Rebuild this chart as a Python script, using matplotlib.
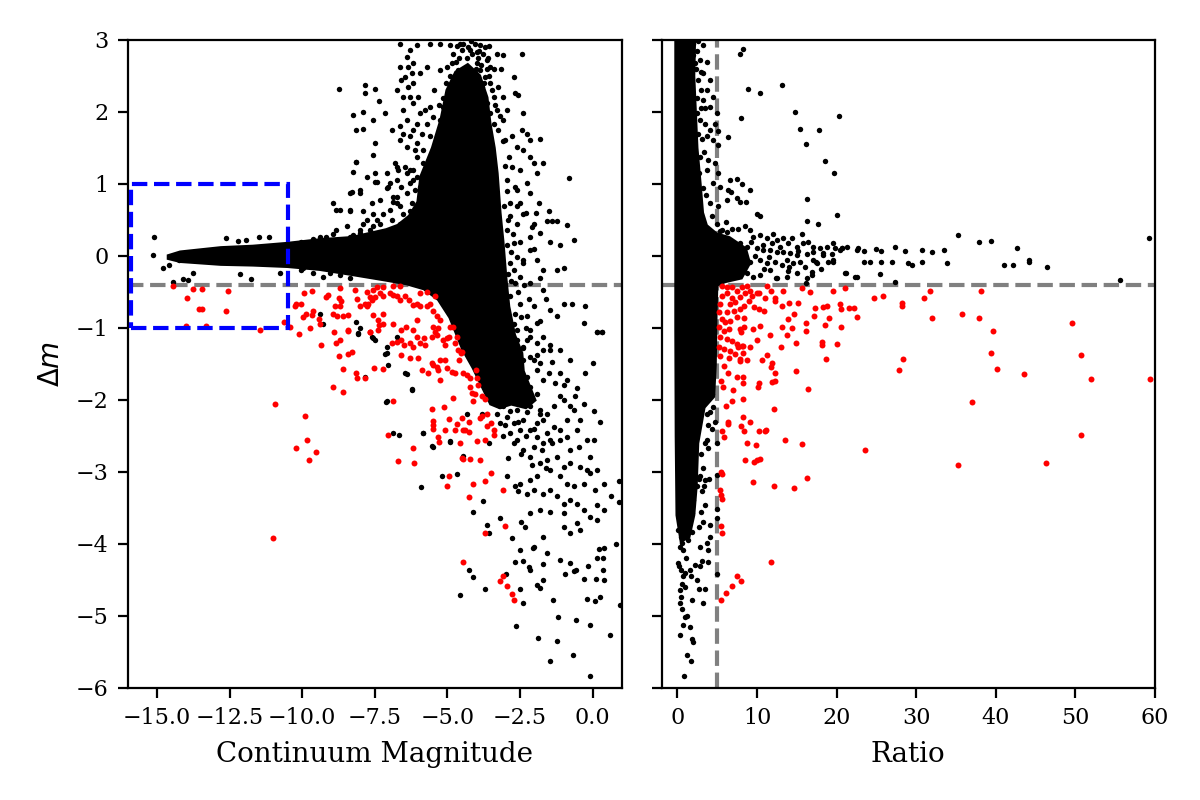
import matplotlib
matplotlib.use("Agg")
import matplotlib.pyplot as plt
from matplotlib.patches import Rectangle

# ---------------- data ----------------
# dense core of the left panel (outline of the solid black region)
left_core_mag = [-14.6, -14.2, -13.5, -12.8, -11.7, -10.5, -9.4, -8.3, -7.1, -6.7, -6.3, -6.0, -5.9, -5.5,
                 -5.2, -5.0, -4.7, -4.3, -3.9, -3.65, -3.55, -3.4, -3.3, -3.2, -3.1, -3.0, -2.9,
                 -2.7, -2.45, -2.4, -2.2, -2.0, -2.3, -2.8, -3.2, -3.5, -3.8, -4.1, -4.45, -4.7, -4.9,
                 -5.3, -5.8, -6.4, -7.1, -8.3, -9.4, -10.5, -11.7, -12.8, -13.5, -14.2, -14.6]
left_core_dm = [0.0, 0.05, 0.08, 0.11, 0.13, 0.17, 0.22, 0.25, 0.36, 0.42, 0.55, 0.75, 1.1, 1.5,
                1.9, 2.3, 2.55, 2.65, 2.5, 2.2, 1.85, 1.5, 1.15, 0.6, 0.2, -0.3, -0.7,
                -1.1, -1.35, -1.6, -1.8, -2.0, -2.1, -2.05, -2.1, -2.05, -1.8, -1.55, -1.3, -1.05, -0.85,
                -0.6, -0.45, -0.38, -0.33, -0.25, -0.18, -0.14, -0.12, -0.11, -0.09, -0.07, -0.03]

# dense band of the right panel (outline of the solid black region)
right_core_ratio = [-0.15, 2.1, 2.0, 2.2, 2.4, 2.8, 3.1, 3.6, 4.9, 6.5, 8.5, 9.0, 8.0, 6.0, 4.9, 4.8, 4.7,
                    4.5, 3.3, 2.5, 2.3, 2.0, 1.4, 0.5, 0.0, -0.1, -0.15, -0.15]
right_core_dm = [3.0, 3.0, 2.5, 2.0, 1.5, 1.0, 0.6, 0.42, 0.3, 0.25, 0.1, -0.1, -0.3, -0.35, -0.4, -0.8, -1.5,
                 -1.95, -2.1, -2.6, -3.2, -3.6, -3.9, -3.95, -3.6, -2.5, -1.0, 1.0]

# individual black points, left panel (continuum magnitude, delta m)
left_black = [
    (-15.11, 0.26), (-15.15, 0.01), (-14.80, -0.17), (-14.60, -0.12), (-14.44, -0.36), (-14.09, -0.32),
    (-13.77, -0.24), (-13.94, -0.33), (-12.62, 0.25), (-12.21, 0.21), (-11.93, 0.22), (-11.49, 0.27),
    (-11.14, 0.27), (-12.13, -0.25), (-11.75, -0.32), (-10.75, -0.23), (-14.23, -0.06), (-10.20, 0.15),
    (-9.86, 0.13), (-10.03, -0.19),
    (-10.03, 0.20), (-9.63, 0.24), (-9.40, 0.27), (-9.19, 0.27), (-8.94, 0.31), (-8.76, 0.22), (-8.25, 0.29),
    (-8.01, 0.36), (-8.82, 0.64), (-8.36, 0.64), (-7.78, 0.50), (-7.55, 0.41), (-8.01, 0.87), (-8.30, 0.89),
    (-7.50, 1.15), (-7.44, 1.03), (-7.09, 0.94), (-6.98, 1.01), (-6.86, 0.75), (-6.63, 0.69), (-6.29, 0.62),
    (-6.40, 0.48), (-6.17, 0.41), (-5.94, 0.96), (-6.75, 1.24), (-6.29, 1.19), (-6.17, 1.06), (-6.40, 1.15),
    (-6.75, 0.82), (-5.94, 0.69), (-5.71, 0.45), (-8.13, 1.31),
    (-8.73, 2.32), (-7.84, 2.38), (-7.84, 2.26), (-7.50, 2.32), (-7.35, 2.15), (-8.24, 1.96), (-7.90, 2.00),
    (-7.55, 1.89), (-8.13, 1.75), (-7.90, 1.76), (-7.50, 1.57), (-7.55, 1.40), (-8.13, 1.31), (-8.24, 1.17),
    (-7.78, 1.10), (-7.50, 1.03), (-7.04, 0.96), (-8.36, 0.87), (-8.01, 0.92), (-7.61, 0.73), (-7.32, 0.78),
    (-7.90, 0.62), (-7.55, 0.59), (-8.36, 0.62), (-8.70, 0.64), (-8.93, 0.73), (-7.15, 1.98), (-6.92, 1.75),
    (-6.63, 1.80), (-6.17, 1.75), (-6.40, 1.89), (-6.52, 2.03), (-6.75, 2.31), (-6.58, 2.44), (-6.63, 2.63),
    (-6.40, 2.77), (-6.29, 2.86), (-6.63, 2.95), (-6.06, 2.93), (-6.17, 2.68), (-6.17, 2.40), (-6.29, 2.21),
    (-5.94, 2.54), (-5.71, 2.63), (-5.60, 2.95), (-5.25, 2.95), (-5.25, 2.58), (-5.02, 2.63), (-4.79, 2.81),
    (-4.68, 2.91), (-4.45, 2.95), (-4.22, 2.86), (-3.87, 2.93), (-3.76, 2.81), (-3.99, 2.68), (-3.64, 2.72),
    (-3.53, 2.63), (-3.30, 2.81), (-3.07, 2.79), (-2.72, 2.49), (-3.53, 2.40), (-3.41, 2.21), (-3.07, 2.21),
    (-3.99, 2.31), (-4.33, 2.40), (-4.68, 2.40), (-4.91, 2.21), (-5.14, 2.07), (-5.60, 2.07), (-5.48, 1.93),
    (-5.71, 1.84), (-5.25, 1.89), (-5.02, 1.80), (-6.06, 1.57), (-5.83, 1.47), (-5.60, 1.38), (-5.37, 1.29),
    (-6.17, 1.19), (-6.06, 1.38), (-6.40, 1.52), (-6.63, 1.61), (-6.81, 1.29), (-6.69, 1.19), (-7.09, 1.15),
    (-6.75, 1.06), (-6.29, 1.01), (-6.40, 0.87), (-6.75, 0.73), (-6.98, 0.64), (-6.52, 0.59), (-7.21, 0.59),
    (-7.32, 0.45), (-7.67, 0.36), (-8.01, 0.32), (-8.36, 0.27), (-8.70, 0.22),
    (-4.85, 2.68), (-4.62, 2.58), (-4.50, 2.47), (-4.22, 2.54), (-4.04, 2.44), (-3.87, 2.58), (-3.81, 2.35),
    (-3.70, 2.49), (-4.10, 2.21), (-4.39, 2.17), (-4.62, 2.26), (-4.79, 2.07), (-4.56, 1.98), (-4.22, 2.03),
    (-3.93, 2.07), (-3.64, 2.12), (-3.53, 1.98), (-3.70, 1.89), (-3.30, 2.03), (-3.41, 1.84), (-3.24, 1.75),
    (-5.02, 1.93), (-5.25, 1.75), (-5.37, 1.61), (-5.60, 1.66), (-5.08, 1.66), (-4.50, 2.86), (-4.33, 2.75),
    (-3.99, 2.84), (-3.58, 2.91), (-4.91, 2.93), (-6.35, 2.63), (-6.46, 2.49), (-6.23, 2.54), (-6.35, 2.35),
    (-6.52, 2.21), (-6.17, 2.12), (-6.00, 2.21), (-5.94, 1.98), (-5.77, 2.03), (-6.06, 1.84), (-5.89, 1.70),
    (-6.29, 1.66), (-6.52, 1.70), (-6.12, 1.47), (-5.83, 1.29), (-6.06, 1.10), (-6.46, 1.24), (-6.58, 0.96),
    (-6.12, 0.92), (-5.94, 0.78), (-6.23, 0.73), (-6.86, 0.82), (-6.92, 0.50), (-6.63, 0.45), (-7.44, 0.50),
    (-7.90, 0.45), (-8.47, 0.41), (-8.82, 0.36),
    (-4.75, 2.45), (-4.60, 2.75), (-4.45, 2.60), (-4.30, 2.90), (-4.15, 2.80), (-4.05, 2.95), (-3.95, 2.75),
    (-3.85, 2.65), (-3.70, 2.90), (-3.65, 2.60), (-4.55, 2.95), (-4.35, 2.45), (-4.00, 2.60), (-3.75, 2.40),
    (-4.70, 2.70), (-4.20, 2.98), (-3.90, 2.85), (-3.60, 2.75), (-3.55, 2.50), (-3.45, 2.30), (-3.40, 2.60),
    (-3.35, 2.10), (-3.25, 2.35), (-3.15, 2.60), (-4.90, 2.50), (-5.05, 2.40), (-5.15, 2.20), (-5.30, 2.10),
    (-5.45, 2.30), (-3.20, 1.95), (-3.10, 1.60), (-3.00, 1.25), (-2.95, 0.90), (-3.05, 0.70),
    (-2.43, 2.81), (-2.66, 2.26), (-2.55, 2.24), (-2.38, 1.98), (-2.43, 1.75), (-2.26, 1.70), (-2.15, 1.61),
    (-1.80, 1.63), (-2.78, 1.66), (-2.61, 1.52), (-2.38, 1.47), (-2.15, 1.38), (-2.03, 1.29), (-1.69, 1.29),
    (-1.92, 1.15), (-2.49, 1.19), (-2.78, 1.24), (-2.26, 1.01), (-2.61, 0.92), (-2.15, 0.87), (-2.49, 0.73),
    (-1.86, 0.73), (-2.38, 0.59), (-2.03, 0.45), (-1.51, 0.62), (-1.57, 0.48), (-1.40, 0.48), (-1.23, 0.48),
    (-0.88, 0.43), (-0.65, 0.22), (-1.46, 0.20), (-1.11, 0.15), (-1.80, 0.32), (-2.15, 0.27), (-2.15, 0.08),
    (-1.92, -0.06), (-2.38, -0.10), (-1.69, -0.19), (-1.23, -0.19), (-0.99, -0.17), (-0.82, 1.08),
    (-2.49, -0.29), (-2.15, -0.38), (-1.69, -0.47), (-0.99, -0.66), (-0.71, -0.66), (-0.25, -0.69),
    (-1.46, -0.75), (-1.23, -0.84), (-0.30, -0.93), (0.16, -1.05), (0.33, -1.05), (-1.92, -0.93),
    (-2.15, -1.03), (-1.69, -1.12), (-1.46, -1.30), (-2.38, -1.26), (-1.92, -1.37),
    (-2.95, 0.36), (-2.84, 0.55), (-2.72, 0.18), (-2.61, -0.01), (-2.84, -0.10), (-2.66, -0.38),
    (-2.84, -0.56), (-2.49, -0.66), (-2.66, -0.80), (-2.26, -0.84), (-2.61, -1.03), (-2.78, -1.21),
    (-2.26, -1.17), (-2.84, 0.73), (-2.66, 0.96), (-2.95, 1.06), (-2.89, 1.38), (-3.01, 1.61),
    (-3.07, 1.89), (-2.95, 2.03),
    (-2.90, 0.50), (-2.75, 0.30), (-2.60, 0.45), (-2.80, 0.05), (-2.50, 0.20), (-2.40, -0.05), (-2.70, -0.20),
    (-2.55, -0.50), (-2.35, -0.40), (-2.80, -0.35), (-2.20, -0.60), (-2.45, -0.85), (-2.00, -0.70),
    (-1.80, -0.90), (-2.30, -1.00), (-2.70, -0.95), (-2.90, -0.25), (-2.95, 0.15), (-2.30, 0.60),
    (-2.00, 0.10), (-1.80, -0.30), (-1.60, -0.60), (-2.10, 0.40), (-2.60, 0.70), (-1.95, 0.60),
    (-9.99, -0.17), (-9.63, -0.24), (-9.28, -0.29), (-9.05, -0.24), (-8.71, -0.26), (-8.36, -0.31),
    (-9.40, -0.80), (-9.28, -0.94), (-8.13, -0.91), (-8.07, -1.07), (-7.55, -1.14), (-7.09, -1.26),
    (-7.09, -1.35), (-6.75, -1.12), (-6.46, -1.63), (-6.23, -1.86), (-7.09, -2.02), (-6.86, -2.46),
    (-5.83, -2.46), (-5.48, -2.65), (-4.91, -2.58), (-7.84, -1.68), (-8.01, -1.00),
    (-8.07, -1.08), (-7.61, -1.12), (-7.50, -1.17), (-7.15, -1.36), (-7.04, -1.51), (-6.40, -1.64),
    (-6.23, -1.85), (-7.12, -2.03), (-6.66, -2.48), (-5.85, -2.46), (-5.52, -2.64), (-5.20, -3.05),
    (-4.68, -3.03), (-5.92, -3.21), (-4.91, -2.57), (-4.47, -2.78), (-4.33, -2.19), (-3.81, -2.19),
    (-3.58, -2.60), (-3.78, -3.40), (-4.12, -3.56), (-3.64, -3.74), (-3.55, -3.85), (-3.18, -3.64),
    (-2.93, -3.05), (-2.66, -3.19), (-2.58, -3.27), (-2.47, -3.70), (-2.32, -3.77), (-2.78, -3.91),
    (-2.49, -4.08), (-2.05, -4.05), (-2.66, -4.25), (-2.41, -4.24), (-2.19, -4.32), (-2.15, -4.36),
    (-1.69, -4.28), (-2.97, -4.41), (-4.24, -4.36), (-4.12, -4.46), (-4.58, -4.71), (-3.69, -4.63),
    (-2.51, -4.62), (-2.38, -4.82), (-1.92, -4.57), (-1.82, -4.61), (-1.71, -4.50), (-1.37, -4.78),
    (-0.96, -4.42), (-0.65, -4.38), (-0.56, -4.36), (-0.30, -4.48), (-0.19, -4.76), (0.10, -4.79),
    (0.25, -4.74), (0.36, -4.36), (0.39, -4.50), (0.13, -4.48), (0.36, -4.19), (0.16, -4.19), (0.21, -4.07),
    (0.39, -4.06), (0.80, -4.00), (-0.17, -4.30), (-2.65, -5.14), (-1.89, -5.31), (-1.22, -5.35),
    (-1.20, -5.02), (-0.58, -5.05), (-0.10, -5.13), (0.59, -5.27), (-1.48, -5.63), (-0.68, -5.54),
    (-0.07, -5.84), (0.94, -4.85), (0.92, -3.12), (0.92, -3.42), (0.04, -2.55), (0.06, -2.15), (0.25, -2.31),
    (-0.25, -1.63), (0.00, -1.48), (0.16, -1.06), (0.33, -1.06),
    (-3.99, -1.26), (-3.64, -1.35), (-3.30, -1.31), (-3.07, -1.21), (-2.84, -1.12), (-2.61, -1.17),
    (-2.38, -1.28), (-2.15, -1.12), (-1.92, -1.21), (-1.69, -1.31), (-1.46, -1.24), (-2.03, -1.44),
    (-1.80, -1.49), (-1.51, -1.63), (-1.69, -1.72), (-1.28, -1.77), (-0.99, -1.79), (-1.11, -1.95),
    (-0.76, -2.09), (-0.99, -2.00), (-1.34, -2.09), (-1.57, -2.19), (-1.80, -2.14), (-2.15, -2.09),
    (-2.38, -2.00), (-2.61, -1.95), (-2.84, -1.86), (-3.07, -1.91), (-3.18, -2.09), (-2.95, -2.23),
    (-2.72, -2.32), (-2.38, -2.28), (-2.15, -2.42), (-1.92, -2.51), (-1.57, -2.46), (-1.34, -2.37),
    (-1.11, -2.42), (-0.88, -2.51), (-0.65, -2.14), (-0.88, -2.28), (-1.11, -2.56), (-1.46, -2.56),
    (-1.69, -2.60), (-2.03, -2.65), (-2.38, -2.69), (-2.61, -2.56), (-2.84, -2.46), (-2.15, -2.79),
    (-1.80, -2.88), (-1.57, -2.83), (-1.23, -2.79), (-0.99, -2.93), (-0.76, -2.88), (-0.42, -2.93),
    (-0.19, -2.97), (-1.46, -2.97), (-1.11, -3.06), (-0.88, -3.16), (-0.65, -3.20), (-0.30, -3.16),
    (-0.07, -3.02), (-1.92, -3.06), (-2.15, -3.11), (-2.49, -3.16), (-2.26, -3.30), (-2.03, -3.25),
    (-1.69, -3.30), (-1.46, -3.25), (-1.23, -3.34), (-0.99, -3.44), (-0.76, -3.39), (-0.53, -3.44),
    (-0.30, -3.53), (-0.07, -3.62), (0.16, -3.67), (0.39, -3.53), (-0.99, -3.57), (-1.46, -3.55),
    (-1.80, -3.53), (-2.15, -3.57), (-0.99, -3.76), (-0.53, -3.71), (-0.42, -3.81), (-0.76, -3.85),
    (-1.69, -3.90), (-2.03, -4.04), (0.16, -3.46), (-1.57, -4.13), (-1.11, -4.22), (-0.76, -4.27),
    (-3.87, -1.49), (-3.53, -1.58), (-3.18, -1.54), (-2.95, -1.44), (-2.72, -1.63), (-2.49, -1.54),
    (-2.26, -1.68), (-3.07, -1.72), (-3.30, -1.82), (-3.53, -1.86), (-2.78, -1.77), (-2.43, -1.84),
    (-2.15, -1.82), (-1.92, -1.91), (-3.41, -2.00), (-3.07, -2.09), (-2.61, -2.14), (-2.26, -2.16),
    (-2.49, -2.42), (-1.92, -2.32), (-1.69, -2.28), (-3.18, -2.32), (-2.15, -1.40), (-1.92, -1.58),
    (-2.38, -1.44), (-1.40, -1.47), (-1.11, -1.63), (-0.88, -1.72), (-0.53, -1.84), (-0.59, -1.95),
    (-0.30, -2.05), (-0.42, -2.28), (-0.53, -2.42), (-0.19, -2.56), (-0.48, -2.65), (-0.76, -2.69),
    (-0.07, -2.79), (0.16, -2.97), (0.39, -3.16), (0.10, -3.25), (0.62, -3.34), (-1.11, -1.31),
    (-0.76, -1.44),
    (-3.30, -2.20), (-3.00, -2.35), (-2.85, -2.15), (-2.55, -2.30), (-2.30, -2.50), (-2.00, -2.40),
    (-1.80, -2.20), (-2.70, -2.60), (-2.45, -2.75), (-2.10, -2.90), (-1.75, -2.70), (-3.10, -2.50),
    (-2.90, -2.80), (-1.60, -2.95), (-1.40, -2.60),
]

# red (selected) points, left panel
left_red = [
    (-14.46, -0.42), (-13.98, -0.58), (-13.77, -0.46), (-13.46, -0.46), (-13.56, -0.73), (-13.46, -0.73),
    (-12.56, -0.48), (-12.64, -0.76), (-14.00, -0.97), (-13.31, -0.97), (-11.47, -1.03), (-10.64, -0.92),
    (-10.43, -0.98), (-10.11, -1.09), (-10.24, -0.70), (-10.20, -0.66), (-10.03, -0.66), (-9.95, -0.52),
    (-9.68, -0.48), (-9.86, -0.80), (-9.68, -0.82), (-9.63, -0.77), (-9.97, -0.85), (-9.42, -0.88),
    (-9.40, -0.94), (-9.74, -1.00), (-9.35, -1.23), (-9.19, -0.57), (-9.11, -0.54), (-8.94, -0.80),
    (-8.88, -0.70), (-8.71, -0.70), (-8.73, -0.59), (-8.65, -0.63), (-8.80, -0.84), (-8.59, -0.84),
    (-8.42, -0.82), (-8.42, -1.03), (-8.10, -0.60), (-8.01, -0.70), (-7.84, -0.66), (-7.78, -0.50),
    (-7.55, -0.47), (-7.44, -0.43), (-7.21, -0.43), (-6.86, -0.42), (-6.63, -0.41), (-7.67, -0.57),
    (-7.61, -0.61), (-7.50, -0.57), (-7.32, -0.52), (-7.21, -0.56), (-7.78, -0.70), (-7.73, -0.66),
    (-7.55, -0.82), (-7.38, -0.89), (-7.21, -0.80), (-7.23, -0.94), (-7.67, -1.05), (-7.35, -0.96),
    (-6.86, -0.54), (-6.75, -0.56), (-6.63, -0.61), (-6.98, -0.52), (-6.46, -0.56), (-6.31, -0.61),
    (-6.86, -0.94), (-8.71, -0.45), (-8.19, -0.47),
    (-6.58, -1.03), (-6.43, -0.98), (-6.17, -1.03), (-6.06, -0.89), (-5.94, -0.70), (-6.06, -0.66),
    (-6.17, -0.68), (-5.71, -0.70), (-5.60, -0.66), (-5.48, -0.77), (-5.37, -0.84), (-5.48, -0.98),
    (-5.31, -1.00), (-5.25, -0.89), (-4.91, -0.98), (-4.79, -0.98), (-5.94, -0.52), (-5.71, -0.50),
    (-5.43, -0.56),
    (-10.95, -2.05), (-9.89, -2.22), (-9.82, -2.55), (-10.20, -2.67), (-9.51, -2.72), (-9.76, -2.83),
    (-11.00, -3.92),
    (-8.91, -1.05), (-8.42, -1.04), (-7.67, -1.05), (-7.38, -1.03), (-8.84, -1.21), (-8.70, -1.16),
    (-8.73, -1.39), (-8.42, -1.36), (-8.30, -1.33), (-8.59, -1.57), (-8.13, -1.63), (-8.11, -1.70),
    (-7.84, -1.70), (-7.53, -1.56), (-7.21, -1.57), (-8.93, -1.82), (-8.61, -1.89),
    (-6.89, -1.21), (-6.75, -1.19), (-6.58, -1.16), (-6.50, -1.24), (-6.29, -1.21), (-6.17, -1.26),
    (-6.06, -1.12), (-5.94, -1.21), (-5.77, -1.24), (-5.79, -1.14), (-5.54, -1.12), (-5.43, -1.05),
    (-5.37, -1.10), (-6.61, -1.38), (-6.29, -1.42), (-6.00, -1.42), (-5.89, -1.58), (-5.66, -1.63),
    (-5.54, -1.49), (-5.48, -1.51), (-5.37, -1.54), (-5.25, -1.44), (-5.08, -1.44), (-5.02, -1.56),
    (-5.31, -1.58), (-5.25, -1.72), (-4.85, -1.61), (-4.73, -1.63), (-4.60, -1.44), (-4.50, -1.33),
    (-4.62, -1.31), (-4.73, -1.21), (-5.08, -1.24), (-5.14, -1.17), (-5.02, -1.14), (-4.96, -1.12),
    (-4.68, -1.12), (-4.54, -1.35), (-4.47, -1.62), (-4.33, -1.65), (-4.22, -1.70), (-4.02, -1.59),
    (-3.99, -1.70), (-3.93, -1.79), (-4.22, -1.82), (-4.16, -1.90), (-4.04, -1.91), (-3.81, -1.95),
    (-3.70, -1.98), (-4.10, -2.02), (-4.82, -1.97), (-5.12, -2.10), (-5.54, -2.12), (-4.93, -2.27),
    (-5.48, -2.29), (-5.48, -2.35), (-5.48, -2.40), (-5.31, -2.52), (-5.28, -2.59), (-5.08, -2.42),
    (-4.73, -2.42), (-4.68, -2.33), (-4.50, -2.25), (-4.47, -2.42), (-4.39, -2.41), (-4.27, -2.44),
    (-4.24, -2.30), (-3.99, -2.57), (-3.87, -2.25), (-3.81, -2.22), (-3.62, -2.20), (-3.48, -2.32),
    (-3.64, -2.36), (-3.38, -2.41), (-3.39, -2.49), (-3.69, -2.55), (-4.56, -2.60), (-4.50, -2.80),
    (-4.47, -2.82), (-4.22, -2.82), (-3.89, -2.83), (-6.18, -2.67), (-6.14, -2.88), (-6.69, -2.85),
    (-7.04, -2.48), (-6.86, -2.01), (-4.96, -3.06), (-5.02, -3.20), (-4.12, -3.17), (-3.69, -3.12),
    (-3.49, -3.01), (-4.24, -3.35), (-3.10, -3.25), (-3.00, -3.75), (-3.69, -3.85), (-4.45, -4.25),
    (-3.07, -4.45), (-3.20, -4.52), (-2.93, -4.59), (-2.76, -4.69), (-2.72, -4.78),
]

# individual black points, right panel (ratio, delta m)
right_black = [
    (1.99, 2.95), (2.62, 2.98), (3.24, 2.93), (1.99, 2.79), (2.83, 2.72), (2.20, 2.68), (3.66, 2.70),
    (3.24, 2.54), (2.62, 2.44), (4.08, 2.44), (3.66, 2.31), (4.50, 2.21), (3.24, 2.17), (4.08, 2.07),
    (4.92, 1.98), (2.41, 1.98), (2.83, 1.89), (3.45, 1.84), (4.71, 1.84), (4.08, 1.75), (5.13, 1.73),
    (3.66, 1.66), (3.03, 1.63), (4.50, 1.61), (5.13, 1.54), (2.83, 1.38), (3.87, 1.33), (4.71, 1.29),
    (5.13, 1.15), (3.66, 1.19), (4.50, 1.01), (5.34, 0.96), (4.08, 0.73), (5.13, 0.69), (4.29, 0.55),
    (4.92, 0.45), (2.4, 2.85), (2.9, 2.55), (2.5, 2.2), (3.0, 2.05), (2.6, 1.7), (3.3, 1.45), (2.7, 1.15),
    (3.2, 0.95), (3.6, 0.85), (2.9, 2.3), (3.5, 2.05), (2.3, 2.6),
    (8.2, 2.88), (7.8, 2.80), (8.9, 2.32), (10.4, 2.26), (13.2, 2.37), (14.8, 2.00), (15.4, 1.76),
    (17.8, 1.75), (20.3, 1.95), (16.1, 1.55), (18.6, 1.32), (19.7, 1.15), (16.3, 0.79), (16.3, 0.48),
    (17.7, 0.44), (20.1, 0.57), (8.0, 1.91), (6.4, 1.65), (7.5, 1.07), (8.1, 1.00), (9.1, 0.91),
    (6.6, 1.06), (6.4, 0.91), (6.7, 0.89), (6.2, 0.78), (7.5, 0.80), (7.8, 0.75), (8.6, 0.75),
    (10.0, 0.59), (10.4, 0.55), (6.1, 0.47), (5.3, 0.35),
    (5.55, 0.36), (6.18, 0.34), (6.80, 0.38), (7.64, 0.37), (8.48, 0.41), (9.11, 0.36), (9.53, 0.27),
    (10.36, 0.29), (11.20, 0.25), (11.83, 0.18), (12.46, 0.22), (13.29, 0.25), (13.92, 0.18), (14.34, 0.25),
    (14.97, 0.13), (15.81, 0.18), (16.43, 0.20), (17.06, 0.13), (17.90, 0.11), (18.74, 0.13), (19.58, 0.18),
    (20.62, 0.11), (21.25, 0.13), (22.51, 0.08), (7.85, 0.18), (8.69, 0.13), (9.94, 0.11), (10.78, 0.08),
    (11.62, 0.08), (12.46, 0.06), (13.29, 0.05), (14.13, 0.04), (14.97, 0.01), (16.23, 0.03), (17.06, 0.05),
    (18.32, 0.01), (19.37, 0.03), (20.41, 0.08), (7.43, -0.01), (8.27, -0.06), (9.11, -0.08), (10.36, -0.06),
    (11.20, -0.10), (12.25, -0.08), (13.08, -0.12), (13.71, -0.06), (14.55, -0.10), (15.39, -0.08),
    (17.06, -0.06), (17.48, -0.10), (18.95, -0.08), (19.58, -0.06), (7.85, -0.19), (8.69, -0.24),
    (9.53, -0.29), (10.36, -0.26), (11.62, -0.19), (12.46, -0.31), (13.71, -0.29), (14.97, -0.24),
    (16.23, -0.31), (16.85, -0.22), (21.04, -0.23), (22.51, -0.29), (22.72, 0.11),
    (9.8, 0.0), (10.7, 0.15), (11.5, -0.02), (12.9, 0.12), (15.2, 0.07), (16.0, -0.15), (18.0, -0.18),
    (9.3, 0.2), (10.9, -0.18), (12.0, 0.3), (14.0, -0.15), (15.6, 0.3),
    (55.6, -0.33), (46.4, -0.15), (44.2, -0.08), (44.2, -0.05), (42.7, 0.11), (42.1, -0.13), (41.0, -0.13),
    (39.4, 0.21), (37.9, 0.20), (33.9, -0.10), (33.5, 0.08), (30.7, -0.08), (30.7, 0.08), (29.5, -0.12),
    (29.0, -0.10), (28.6, 0.07), (27.3, -0.36), (27.3, 0.12), (26.9, -0.09), (25.6, 0.07), (25.6, -0.08),
    (25.0, 0.10), (24.2, -0.08), (23.4, -0.09), (23.4, 0.07), (25.4, -0.25), (22.3, -0.29), (21.2, -0.23),
    (19.6, -0.09), (20.7, 0.11), (19.8, 0.11), (18.3, 0.04), (17.4, -0.08), (16.9, -0.27), (16.1, -0.37),
    (13.9, -0.21), (12.4, -0.31), (59.2, 0.25), (35.3, 0.29), (32.0, 0.05),
    (0.31, -3.71), (0.10, -3.81), (0.40, -3.90), (0.52, -3.99), (0.31, -4.04), (0.73, -4.08), (0.05, -4.27),
    (0.23, -4.31), (0.40, -4.36), (0.73, -4.45), (0.52, -4.55), (0.31, -4.64), (0.40, -4.73), (0.31, -4.82),
    (0.94, -5.01), (1.23, -5.00), (0.73, -5.12), (1.57, -5.15), (0.31, -5.26), (1.78, -5.32), (1.99, -5.36),
    (1.23, -5.54), (1.69, -5.62), (0.82, -5.83), (1.86, -4.78), (3.24, -4.82), (2.70, -4.62), (3.45, -4.62),
    (2.41, -4.50), (1.65, -4.45), (1.57, -4.36), (2.20, -4.29), (2.83, -4.31), (3.03, -4.23), (3.87, -4.25),
    (2.83, -4.04), (3.87, -4.08), (3.66, -3.99), (4.08, -3.90), (5.00, -4.41), (4.92, -3.64), (1.86, -3.84),
    (2.70, -3.76), (3.16, -3.69), (4.08, -3.74), (4.92, -3.51), (2.91, -3.55), (3.45, -3.46), (4.92, -3.04),
    (3.45, -3.11), (3.03, -3.27), (1.99, -3.20), (4.29, -1.91), (4.08, -2.16), (3.87, -2.67), (4.92, -2.60),
    (3.66, -2.56), (0.10, -2.97), (1.15, -3.02), (0.52, -3.11), (1.57, -3.20), (0.31, -3.25), (0.94, -3.34),
    (1.99, -3.39), (1.36, -3.48), (0.31, -3.53), (1.78, -3.57), (0.73, -3.62), (2.41, -3.20), (2.83, -3.06),
    (3.7, -2.2), (4.3, -2.4), (3.5, -2.6), (3.9, -2.35), (2.9, -2.75), (3.2, -2.95), (2.7, -3.1), (3.3, -3.2),
    (4.0, -3.1), (4.5, -2.1), (4.7, -2.3), (1.1, -4.2), (0.9, -4.6), (1.3, -3.95), (0.6, -4.9), (1.0, -4.4),
]

# red (selected) points, right panel
right_red = [
    (59.4, -1.71), (52.0, -1.71), (50.7, -1.38), (49.6, -0.93), (50.7, -2.49), (46.3, -2.87), (43.6, -1.64),
    (40.2, -1.57), (39.4, -1.35), (39.7, -1.04), (37.9, -0.86), (38.1, -0.48), (35.8, -0.80), (37.0, -2.03),
    (35.3, -2.90), (32.0, -0.86), (31.0, -0.58), (31.7, -0.48), (28.2, -0.65), (28.2, -0.69), (28.3, -1.43),
    (27.9, -1.59), (25.8, -0.55), (24.7, -0.59), (23.6, -2.69), (22.5, -0.85), (22.2, -0.72), (21.5, -0.72),
    (20.6, -0.73), (20.4, -0.66), (20.5, -0.98), (20.1, -1.22), (21.0, -0.44), (19.5, -0.48), (19.1, -0.86),
    (18.5, -0.96), (18.8, -0.69), (18.3, -0.71), (18.2, -1.19), (18.2, -1.24), (18.7, -1.43), (17.3, -0.72),
    (17.2, -0.83), (16.4, -1.85), (16.3, -3.09), (16.2, -0.93), (16.1, -1.04), (16.6, -0.50), (15.6, -0.44),
    (15.6, -2.61), (15.2, -0.65), (14.7, -0.80), (14.7, -3.22), (14.9, -1.21), (14.9, -1.60), (14.4, -1.00),
    (14.0, -0.65), (13.9, -0.87), (13.8, -1.10), (13.5, -2.55), (13.3, -0.48), (13.1, -0.69), (13.1, -0.98),
    (13.0, -1.26), (12.3, -0.58), (12.3, -0.62), (12.1, -2.12), (12.1, -3.19), (12.3, -1.63), (12.3, -1.74),
    (11.9, -1.75), (11.8, -1.54), (11.9, -1.48), (11.6, -1.10), (11.8, -0.48), (11.1, -2.41), (11.2, -1.38),
    (11.0, -2.43), (11.2, -0.42), (11.0, -0.58), (10.6, -1.45), (10.4, -0.97), (10.2, -0.52), (10.2, -1.77),
    (10.4, -2.82), (10.1, -1.82), (10.2, -2.43), (10.0, -1.17), (9.9, -2.62), (10.0, -2.83), (9.6, -2.86),
    (9.5, -3.14), (9.5, -1.01), (8.8, -1.45), (8.8, -2.60), (9.1, -2.31), (8.5, -2.84), (8.4, -2.43),
    (8.2, -2.23), (8.0, -2.36), (8.3, -1.98), (8.2, -1.68), (8.2, -1.77), (8.2, -1.35), (8.2, -1.25),
    (8.0, -1.05), (7.9, -1.46), (7.5, -1.68), (7.6, -1.26), (6.8, -2.01), (7.0, -1.86), (6.4, -1.63),
    (6.4, -2.31), (6.4, -2.34), (6.1, -2.08), (5.8, -2.51), (5.6, -3.03), (5.6, -3.37), (5.6, -2.43),
    (5.7, -1.82), (5.5, -1.73),
    (5.5, -3.00), (5.3, -3.25), (5.5, -3.32), (5.5, -3.75), (5.6, -3.85), (11.8, -4.25), (7.5, -4.45),
    (8.0, -4.52), (6.8, -4.59), (6.1, -4.68), (5.5, -4.78),
    (5.60, -0.41), (6.23, -0.43), (6.86, -0.43), (7.50, -0.48), (8.13, -0.43), (8.76, -0.41), (9.18, -0.48),
    (5.60, -0.55), (6.23, -0.52), (6.86, -0.59), (7.92, -0.57), (8.55, -0.52), (9.39, -0.55), (10.03, -0.52),
    (5.39, -0.66), (6.65, -0.66), (7.29, -0.64), (8.34, -0.69), (8.97, -0.62), (9.60, -0.71), (10.24, -0.73),
    (10.87, -0.76), (5.18, -0.78), (6.23, -0.78), (7.07, -0.76), (7.92, -0.73), (5.60, -0.87), (6.02, -0.92),
    (6.65, -0.90), (7.50, -0.85), (8.34, -0.86), (5.18, -0.99), (5.81, -1.04), (6.44, -1.01), (7.92, -1.01),
    (8.34, -0.99), (5.39, -1.13), (6.23, -1.15), (6.86, -1.18), (7.50, -1.22), (5.18, -1.27), (5.81, -1.29),
    (6.65, -1.32), (8.13, -1.25), (5.39, -1.39), (6.44, -1.41), (7.29, -1.36), (5.81, -1.53), (7.92, -1.43),
    (9.18, -1.27),
]

h_line_dm = -0.4
v_line_ratio = 5
box_mag = (-15.9, -10.5)
box_dm = (-1.0, 1.0)

# ---------------- figure ----------------
plt.rcParams['font.family'] = ['DejaVu Serif']
plt.rcParams['mathtext.fontset'] = 'dejavusans'

fig, (ax1, ax2) = plt.subplots(1, 2, sharey=True, figsize=(6, 4), dpi=200)
fig.subplots_adjust(left=0.1067, right=0.9625, bottom=0.14, top=0.95, wspace=0.081)

lbx, lby = zip(*left_black)
lrx, lry = zip(*left_red)
rbx, rby = zip(*right_black)
rrx, rry = zip(*right_red)

s_black = 3.8
s_red = 4.6

# left panel
ax1.axhline(h_line_dm, color='gray', ls='--', lw=1.5, zorder=1)
ax1.fill(left_core_mag, left_core_dm, color='k', lw=1.4, zorder=2)
ax1.scatter(lbx, lby, s=s_black, c='k', lw=0, zorder=2)
ax1.scatter(lrx, lry, s=s_red, c='red', lw=0, zorder=2.5)
ax1.add_patch(Rectangle((box_mag[0], box_dm[0]), box_mag[1] - box_mag[0], box_dm[1] - box_dm[0],
                        fill=False, ec='blue', ls='--', lw=1.5, zorder=3))
ax1.set_xlim(-16, 1)
ax1.set_ylim(-6, 3)
ax1.set_xlabel('Continuum Magnitude', fontsize=10)
ax1.set_ylabel(r'$\Delta m$', fontsize=10)

# right panel
ax2.axhline(h_line_dm, color='gray', ls='--', lw=1.5, zorder=1)
ax2.axvline(v_line_ratio, color='gray', ls='--', lw=1.5, zorder=1)
ax2.fill(right_core_ratio, right_core_dm, color='k', lw=1.4, zorder=2)
ax2.scatter(rbx, rby, s=s_black, c='k', lw=0, zorder=2)
ax2.scatter(rrx, rry, s=s_red, c='red', lw=0, zorder=2.5)
ax2.set_xlim(-2, 60)
ax2.set_xticks([0, 10, 20, 30, 40, 50, 60])
ax2.set_xlabel('Ratio', fontsize=10)

for ax in (ax1, ax2):
    ax.tick_params(labelsize=8)
ax1.set_yticks([-6, -5, -4, -3, -2, -1, 0, 1, 2, 3])

fig.savefig('out.png', dpi=200)
